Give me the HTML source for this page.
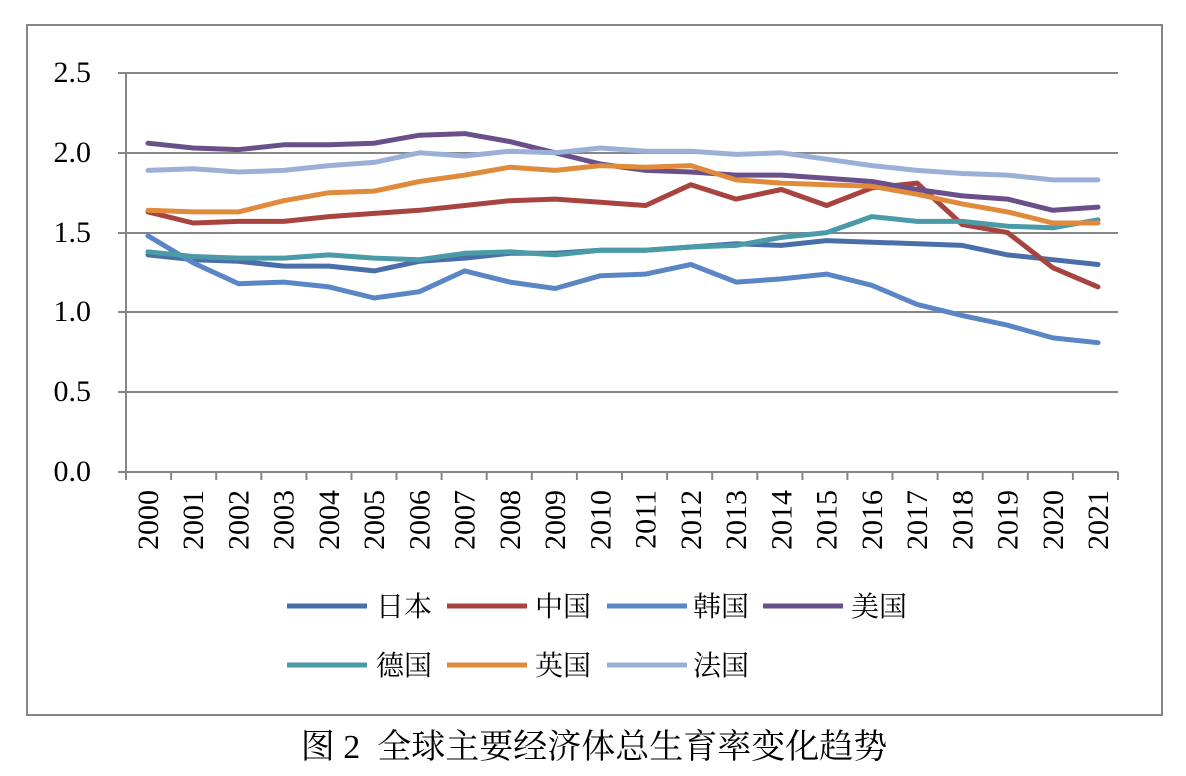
<!DOCTYPE html>
<html><head><meta charset="utf-8"><style>body{margin:0;background:#fff}svg{display:block}</style></head><body>
<svg width="1186" height="776" xmlns="http://www.w3.org/2000/svg" font-family="Liberation Serif, Noto Serif CJK SC, serif">
<rect x="27" y="25" width="1135" height="690" fill="#fff" stroke="#868686" stroke-width="2"/>
<g stroke="#868686" stroke-width="2">
<line x1="118" y1="73" x2="1118" y2="73"/><line x1="118" y1="153" x2="1118" y2="153"/><line x1="118" y1="233" x2="1118" y2="233"/><line x1="118" y1="312" x2="1118" y2="312"/><line x1="118" y1="392" x2="1118" y2="392"/>
<line x1="126" y1="73" x2="126" y2="472"/><line x1="118" y1="472" x2="1118" y2="472"/>
<path d="M126 472v8M171.1 472v8M216.2 472v8M261.3 472v8M306.4 472v8M351.5 472v8M396.5 472v8M441.6 472v8M486.7 472v8M531.8 472v8M576.9 472v8M622 472v8M667.1 472v8M712.2 472v8M757.3 472v8M802.4 472v8M847.4 472v8M892.5 472v8M937.6 472v8M982.7 472v8M1027.8 472v8M1072.9 472v8M1118 472v8"/>
</g>
<g font-size="30" text-anchor="end" fill="#000">
<text x="91" y="82">2.5</text><text x="91" y="162">2.0</text><text x="91" y="242">1.5</text><text x="91" y="321">1.0</text><text x="91" y="401">0.5</text><text x="91" y="481">0.0</text>
</g>
<g font-size="30" fill="#000" text-anchor="end">
<text transform="translate(158,490) rotate(-90)">2000</text>
<text transform="translate(203.2,490) rotate(-90)">2001</text>
<text transform="translate(248.5,490) rotate(-90)">2002</text>
<text transform="translate(293.7,490) rotate(-90)">2003</text>
<text transform="translate(339,490) rotate(-90)">2004</text>
<text transform="translate(384.2,490) rotate(-90)">2005</text>
<text transform="translate(429.4,490) rotate(-90)">2006</text>
<text transform="translate(474.7,490) rotate(-90)">2007</text>
<text transform="translate(519.9,490) rotate(-90)">2008</text>
<text transform="translate(565.2,490) rotate(-90)">2009</text>
<text transform="translate(610.4,490) rotate(-90)">2010</text>
<text transform="translate(655.6,490) rotate(-90)">2011</text>
<text transform="translate(700.9,490) rotate(-90)">2012</text>
<text transform="translate(746.1,490) rotate(-90)">2013</text>
<text transform="translate(791.4,490) rotate(-90)">2014</text>
<text transform="translate(836.6,490) rotate(-90)">2015</text>
<text transform="translate(881.8,490) rotate(-90)">2016</text>
<text transform="translate(927.1,490) rotate(-90)">2017</text>
<text transform="translate(972.3,490) rotate(-90)">2018</text>
<text transform="translate(1017.6,490) rotate(-90)">2019</text>
<text transform="translate(1062.8,490) rotate(-90)">2020</text>
<text transform="translate(1108,490) rotate(-90)">2021</text>
</g>
<g fill="none" stroke-width="5" stroke-linejoin="round" stroke-linecap="round">
<polyline stroke="#4a6fa8" points="148,254.9 193.2,259.7 238.5,261.3 283.7,266.1 329,266.1 374.2,270.9 419.4,261.3 464.7,258.1 509.9,253.3 555.2,253.3 600.4,250.2 645.6,250.2 690.9,247 736.1,243.8 781.4,245.4 826.6,240.6 871.8,242.2 917.1,243.8 962.3,245.4 1007.6,254.9 1052.8,259.7 1098,264.5"/>
<polyline stroke="#a84440" points="148,211.9 193.2,223 238.5,221.4 283.7,221.4 329,216.6 374.2,213.4 419.4,210.3 464.7,205.5 509.9,200.7 555.2,199.1 600.4,202.3 645.6,205.5 690.9,184.7 736.1,199.1 781.4,189.5 826.6,205.5 871.8,187.9 917.1,183.1 962.3,224.6 1007.6,232.6 1052.8,267.7 1098,286.9"/>
<polyline stroke="#5b86c5" points="148,235.8 193.2,262.9 238.5,283.7 283.7,282.1 329,286.9 374.2,298 419.4,291.7 464.7,270.9 509.9,282.1 555.2,288.5 600.4,275.7 645.6,274.1 690.9,264.5 736.1,282.1 781.4,278.9 826.6,274.1 871.8,285.3 917.1,304.4 962.3,315.6 1007.6,325.2 1052.8,337.9 1098,342.7"/>
<polyline stroke="#6a4f8a" points="148,143.2 193.2,148 238.5,149.6 283.7,144.8 329,144.8 374.2,143.2 419.4,135.2 464.7,133.6 509.9,141.6 555.2,152.8 600.4,164 645.6,170.4 690.9,172 736.1,175.1 781.4,175.1 826.6,178.3 871.8,181.5 917.1,189.5 962.3,195.9 1007.6,199.1 1052.8,210.3 1098,207.1"/>
<polyline stroke="#4a9aa8" points="148,251.8 193.2,256.5 238.5,258.1 283.7,258.1 329,254.9 374.2,258.1 419.4,259.7 464.7,253.3 509.9,251.8 555.2,254.9 600.4,250.2 645.6,250.2 690.9,247 736.1,245.4 781.4,237.4 826.6,232.6 871.8,216.6 917.1,221.4 962.3,221.4 1007.6,226.2 1052.8,227.8 1098,219.8"/>
<polyline stroke="#e08a3c" points="148,210.3 193.2,211.9 238.5,211.9 283.7,200.7 329,192.7 374.2,191.1 419.4,181.5 464.7,175.1 509.9,167.2 555.2,170.4 600.4,165.6 645.6,167.2 690.9,165.6 736.1,179.9 781.4,183.1 826.6,184.7 871.8,186.3 917.1,194.3 962.3,203.9 1007.6,211.9 1052.8,223 1098,223"/>
<polyline stroke="#9bb0d6" points="148,170.4 193.2,168.8 238.5,172 283.7,170.4 329,165.6 374.2,162.4 419.4,152.8 464.7,156 509.9,151.2 555.2,152.8 600.4,148 645.6,151.2 690.9,151.2 736.1,154.4 781.4,152.8 826.6,159.2 871.8,165.6 917.1,170.4 962.3,173.5 1007.6,175.1 1052.8,179.9 1098,179.9"/>
</g>
<g stroke-width="5">
<line x1="287" y1="606" x2="367" y2="606" stroke="#4a6fa8"/><line x1="447" y1="606" x2="527" y2="606" stroke="#a84440"/><line x1="607" y1="606" x2="687" y2="606" stroke="#5b86c5"/><line x1="763" y1="606" x2="843" y2="606" stroke="#6a4f8a"/>
<line x1="287" y1="665" x2="367" y2="665" stroke="#4a9aa8"/><line x1="447" y1="665" x2="527" y2="665" stroke="#e08a3c"/><line x1="607" y1="665" x2="687" y2="665" stroke="#9bb0d6"/>
</g>
<g font-size="28" fill="#000">
<text x="376" y="616">日本</text><text x="535" y="616">中国</text><text x="693" y="616">韩国</text><text x="851" y="616">美国</text>
<text x="376" y="675">德国</text><text x="535" y="675">英国</text><text x="693" y="675">法国</text>
</g>
<text x="594" y="758" font-size="34" text-anchor="middle" fill="#000" xml:space="preserve">图 2  全球主要经济体总生育率变化趋势</text>
</svg>
</body></html>
